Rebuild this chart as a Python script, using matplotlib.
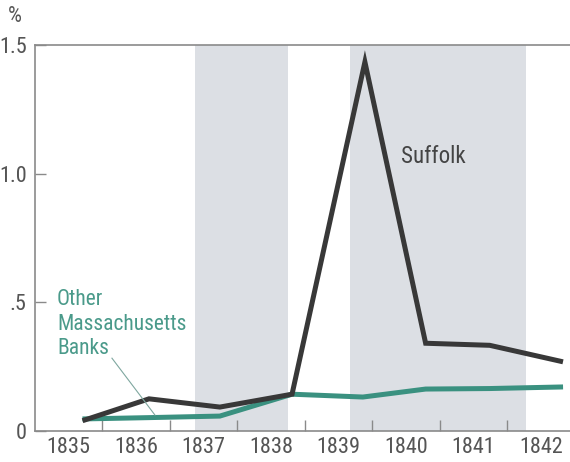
import matplotlib
matplotlib.use("Agg")
import matplotlib.pyplot as plt
from matplotlib import font_manager
from matplotlib.ticker import FixedLocator, NullFormatter, FixedFormatter

# pick a condensed sans font if one is installed
fl = font_manager.fontManager.ttflist
def find_font():
    prefs = ["LiberationSansNarrow-Regular", "RobotoCondensed-Regular", "DejaVuSansCondensed.ttf",
             "NotoSans-Condensed.", "OpenSans-CondensedRegular", "NotoSans-SemiCondensed."]
    for p in prefs:
        for f in fl:
            if p in f.fname:
                return font_manager.FontProperties(fname=f.fname)
    for f in fl:
        if ("Condensed" in f.fname or "Narrow" in f.fname) and "Bold" not in f.fname \
                and "Italic" not in f.fname and "Oblique" not in f.fname:
            return font_manager.FontProperties(fname=f.fname)
    return font_manager.FontProperties(family="Roboto")
FP = find_font()
def fp(size):
    p = FP.copy()
    p.set_size(size)
    return p

# data (x in fractional years)
suffolk_x = [1835.74, 1836.69, 1837.74, 1838.81, 1839.89, 1840.79, 1841.74, 1842.79]
suffolk_y = [0.043, 0.125, 0.093, 0.143, 1.434, 0.341, 0.333, 0.271]
other_x = [1835.74, 1836.69, 1837.74, 1838.81, 1839.86, 1840.79, 1841.74, 1842.79]
other_y = [0.047, 0.052, 0.058, 0.143, 0.132, 0.163, 0.165, 0.171]
bands = [(1837.37, 1838.75), (1839.67, 1842.28)]
year_labels = ["1835", "1836", "1837", "1838", "1839", "1840", "1841", "1842"]
yticks = [0, 0.5, 1.0, 1.5]
ytick_labels = ["0", ".5", "1.0", "1.5"]
other_label = ["Other", "Massachusetts", "Banks"]

fig = plt.figure(figsize=(5.70, 4.62), dpi=100)
ax = fig.add_axes([35/570, 1 - 431/462, 535/570, 386/462])
ax.set_xlim(1835.0, 1842.93)
ax.set_ylim(0, 1.5)

def px2x(px):
    return 1835.0 + (px - 35) / 67.5
def py2y(py):
    return (431 - py) / 258

for a, b in bands:
    ax.axvspan(a, b, color="#dcdfe4", lw=0, zorder=0)

ax.plot(other_x, other_y, color="#3a9180", lw=3.6, solid_joinstyle="miter", zorder=3)
ax.plot(suffolk_x, suffolk_y, color="#383838", lw=3.6, solid_joinstyle="miter", zorder=4)

ax.text(px2x(401), py2y(162), "Suffolk", color="#444444", fontproperties=fp(16.5),
        ha="left", va="baseline")
for i, line in enumerate(other_label):
    ax.text(px2x(57), py2y(305 + 24.5 * i), line, color="#4a9a8a",
            fontproperties=fp(15.5), ha="left", va="baseline")
ax.plot([px2x(112), px2x(155)], [py2y(358), py2y(415)], color="#7fa79f", lw=0.8, zorder=5)

# spines
for s in ["top", "left", "bottom"]:
    ax.spines[s].set_color("#8a8a8a")
    ax.spines[s].set_linewidth(1.2)
ax.spines["right"].set_visible(False)

# x ticks: marks at year boundaries, labels at year centres
years = [1835 + i for i in range(len(year_labels))]
ax.xaxis.set_major_locator(FixedLocator([y + 1 for y in years[:-1]]))
ax.xaxis.set_major_formatter(NullFormatter())
ax.xaxis.set_minor_locator(FixedLocator([y + 0.5 for y in years]))
ax.xaxis.set_minor_formatter(FixedFormatter(year_labels))
ax.tick_params(axis="x", which="major", direction="in", length=8, width=1, color="#8a8a8a")
ax.tick_params(axis="x", which="minor", length=0, pad=4, labelcolor="#555555")
for lab in ax.get_xticklabels(minor=True):
    lab.set_fontproperties(fp(16))

ax.set_yticks(yticks)
ax.set_yticklabels(ytick_labels)
ax.tick_params(axis="y", direction="in", length=8, width=1, color="#8a8a8a",
               labelcolor="#555555", pad=6)
for lab in ax.get_yticklabels():
    lab.set_fontproperties(fp(16))

fig.text(8/570, 1 - 17/462, "%", fontproperties=fp(16), color="#555555", ha="left", va="center")

fig.savefig("out.png", dpi=100)
